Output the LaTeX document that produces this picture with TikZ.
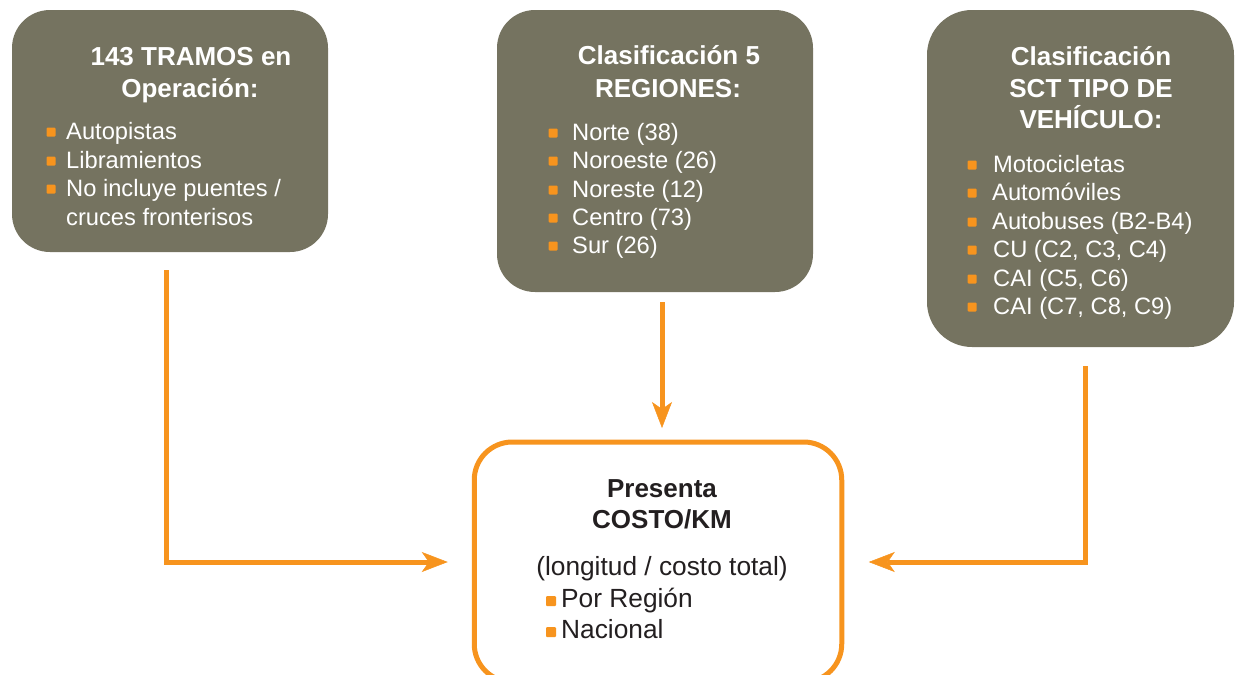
\documentclass[tikz,border=0pt]{standalone}
\usepackage{fontspec}
\setmainfont{Liberation Sans}
\usetikzlibrary{arrows.meta}
\definecolor{boxgrey}{RGB}{117,115,96}
\definecolor{orng}{RGB}{247,148,30}
\definecolor{darktxt}{RGB}{35,31,32}
\tikzset{
  greybox/.style={fill=boxgrey, draw=none, rounded corners=38pt, inner sep=0pt, outer sep=0pt},
  outbox/.style={draw=orng, line width=5pt, rounded corners=38pt, inner sep=0pt, outer sep=0pt, fill=white},
  head/.style={text=white, font=\fontsize{26}{30}\selectfont\bfseries, inner sep=0pt, anchor=base},
  item/.style={text=white, font=\fontsize{23.7}{28}\selectfont, inner sep=0pt, anchor=base west},
  ohead/.style={text=darktxt, font=\fontsize{26}{30}\selectfont\bfseries, inner sep=0pt, anchor=base},
  otext/.style={text=darktxt, font=\fontsize{26.3}{30}\selectfont, inner sep=0pt},
  bul/.style={fill=orng, minimum size=9pt, inner sep=0pt, outer sep=0pt, rounded corners=1pt},
  conn/.style={draw=orng, line width=5pt, line join=miter,
    -{Stealth[length=26pt, width=20pt, inset=7pt, line width=0.5pt]}},
}
\newcommand\bitem[5]{%
  \node[bul] (#1s) at (#2,{#4-7}) {};
  \node[item] (#1) at (#3,#4) {#5};
}
\begin{document}
\begin{tikzpicture}[x=1pt,y=-1pt]
\useasboundingbox (0,0) rectangle (1235,675);
\clip (0,0) rectangle (1235,675);

% boxes
\node[greybox, minimum width=316pt, minimum height=242pt] (lbox) at (170,131) {};
\node[greybox, minimum width=316pt, minimum height=282pt] (mbox) at (655,151) {};
\node[greybox, rounded corners=45pt, minimum width=307pt, minimum height=337pt] (rbox) at (1080.5,178.5) {};
\node[outbox, minimum width=367.5pt, minimum height=240pt] (out) at (658,562) {};

% left box text
\node[head] (lh1) at (191,65) {143 TRAMOS en};
\node[head] (lh2) at (190,97) {Operación:};
\bitem{l1}{51}{66}{139}{Autopistas}
\bitem{l2}{51}{66}{168}{Libramientos}
\bitem{l3}{51}{66}{196}{No incluye puentes /}
\node[item] (l4) at (66,225) {cruces fronterisos};

% middle box text
\node[head] (mh1) at (669,64) {Clasificación 5};
\node[head] (mh2) at (668,97) {REGIONES:};
\bitem{m1}{553}{572}{140}{Norte (38)}
\bitem{m2}{553}{572}{168}{Noroeste (26)}
\bitem{m3}{553}{572}{197}{Noreste (12)}
\bitem{m4}{553}{572}{225}{Centro (73)}
\bitem{m5}{553}{572}{253}{Sur (26)}

% right box text
\node[head] (rh1) at (1091,65) {Clasificación};
\node[head] (rh2) at (1091,97) {SCT TIPO DE};
\node[head] (rh3) at (1091,128) {VEHÍCULO:};
\bitem{r1}{972}{993}{172}{Motocicletas}
\bitem{r2}{972}{992}{200}{Automóviles}
\bitem{r3}{972}{992}{229}{Autobuses (B2-B4)}
\bitem{r4}{972}{993}{257}{CU (C2, C3, C4)}
\bitem{r5}{972}{993}{286}{CAI (C5, C6)}
\bitem{r6}{972}{993}{314}{CAI (C7, C8, C9)}

% output box text
\node[ohead] (o1) at (662,497) {Presenta};
\node[ohead] (o2) at (662,528) {COSTO/KM};
\node[otext, anchor=base] (o3) at (662,575) {(longitud / costo total)};
\node[bul, minimum size=10pt] (o4s) at (551,601) {};
\node[otext, anchor=base west] (o4) at (561,607) {Por Región};
\node[bul, minimum size=10pt] (o5s) at (551,632) {};
\node[otext, anchor=base west] (o5) at (561,638) {Nacional};

% connectors
\coordinate (la) at (166,270);
\coordinate (ma) at (662,302);
\coordinate (ra) at (1085,366);
\draw[conn, shorten >=26.5pt] (la) |- (out.west);
\draw[conn, shorten >=14pt] (ma) -- (ma |- out.north);
\draw[conn, shorten >=27pt] (ra) |- (out.east);
\end{tikzpicture}
\end{document}
